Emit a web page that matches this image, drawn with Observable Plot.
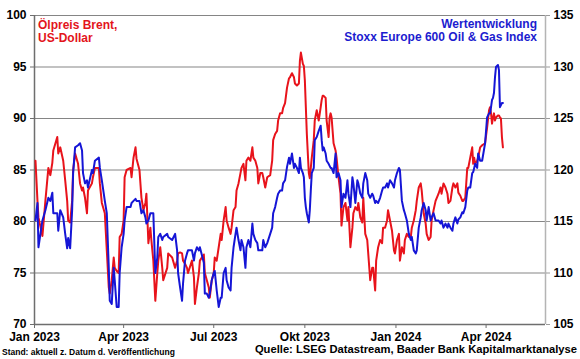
<!DOCTYPE html>
<html>
<head>
<meta charset="utf-8">
<script src="https://cdn.jsdelivr.net/npm/d3@7"></script>
<script src="https://cdn.jsdelivr.net/npm/@observablehq/plot@0.6"></script>
<style>
  html, body { margin: 0; padding: 0; background: #fff; }
  #wrap { position: relative; width: 580px; height: 359px; overflow: hidden; font-family: "Liberation Sans", Arial, sans-serif; font-weight: bold; }
  .t { position: absolute; white-space: nowrap; font-weight: bold; }
</style>
</head>
<body>
<div id="wrap">
  <div id="chart"></div>
  <div class="t" id="tl" style="left:38px;top:19px;font-size:12px;line-height:13px;color:#e3141b;"></div>
  <div class="t" id="tr" style="right:43px;top:18px;font-size:12px;line-height:13px;color:#1c1ccf;text-align:right;"></div>
  <div class="t" id="fl" style="left:2px;top:347px;font-size:8.5px;line-height:11px;color:#000;"></div>
  <div class="t" id="fr" style="right:3px;top:344px;font-size:11.2px;line-height:11px;color:#000;"></div>
</div>
<script>
// ---- Data ----
const dates = [
"2023-01-02","2023-01-04","2023-01-05","2023-01-09","2023-01-12","2023-01-15","2023-01-17","2023-01-19","2023-01-20","2023-01-24",
"2023-01-25","2023-01-27","2023-01-30","2023-02-01","2023-02-03","2023-02-04","2023-02-06","2023-02-08","2023-02-09","2023-02-11",
"2023-02-14","2023-02-16","2023-02-18","2023-02-19","2023-02-21","2023-02-23","2023-02-24","2023-02-28","2023-03-01","2023-03-03",
"2023-03-07","2023-03-08","2023-03-10","2023-03-13","2023-03-15","2023-03-17","2023-03-18","2023-03-20","2023-03-22","2023-03-23",
"2023-03-25","2023-03-27","2023-03-28","2023-03-30","2023-04-01","2023-04-02","2023-04-04","2023-04-08","2023-04-09","2023-04-11",
"2023-04-13","2023-04-14","2023-04-17","2023-04-19","2023-04-21","2023-04-23","2023-04-24","2023-04-26","2023-04-28","2023-04-29",
"2023-05-01","2023-05-03","2023-05-05","2023-05-06","2023-05-08","2023-05-10","2023-05-11","2023-05-15","2023-05-16","2023-05-20",
"2023-05-23","2023-05-25","2023-05-26","2023-05-28","2023-05-30","2023-05-31","2023-06-02","2023-06-04","2023-06-05","2023-06-09",
"2023-06-11","2023-06-12","2023-06-14","2023-06-16","2023-06-17","2023-06-21","2023-06-22","2023-06-24","2023-06-26","2023-06-27",
"2023-06-29","2023-07-01","2023-07-02","2023-07-04","2023-07-06","2023-07-08","2023-07-09","2023-07-11","2023-07-13","2023-07-14",
"2023-07-16","2023-07-18","2023-07-19","2023-07-21","2023-07-23","2023-07-24","2023-07-26","2023-07-28","2023-07-29","2023-07-31",
"2023-08-02","2023-08-03","2023-08-05","2023-08-07","2023-08-09","2023-08-10","2023-08-12","2023-08-14","2023-08-15","2023-08-17",
"2023-08-19","2023-08-20","2023-08-22","2023-08-24","2023-08-27","2023-08-29","2023-08-30","2023-09-01","2023-09-03","2023-09-04",
"2023-09-06","2023-09-08","2023-09-09","2023-09-11","2023-09-13","2023-09-15","2023-09-16","2023-09-18","2023-09-20","2023-09-21",
"2023-09-23","2023-09-25","2023-09-26","2023-09-27","2023-09-29","2023-09-30","2023-10-01","2023-10-02","2023-10-03","2023-10-05",
"2023-10-06","2023-10-07","2023-10-08","2023-10-10","2023-10-11","2023-10-13","2023-10-15","2023-10-17","2023-10-18","2023-10-19",
"2023-10-20","2023-10-22","2023-10-23","2023-10-25","2023-10-26","2023-10-27","2023-10-28","2023-10-30","2023-11-01","2023-11-02",
"2023-11-04","2023-11-06","2023-11-07","2023-11-09","2023-11-11","2023-11-13","2023-11-14","2023-11-16","2023-11-18","2023-11-19",
"2023-11-21","2023-11-23","2023-11-24","2023-11-26","2023-11-28","2023-11-29","2023-12-01","2023-12-03","2023-12-04","2023-12-06",
"2023-12-08","2023-12-09","2023-12-11","2023-12-12","2023-12-14","2023-12-16","2023-12-18","2023-12-19","2023-12-21","2023-12-23",
"2023-12-24","2023-12-26","2023-12-28","2023-12-30","2023-12-31","2024-01-02","2024-01-04","2024-01-05","2024-01-07","2024-01-09",
"2024-01-10","2024-01-12","2024-01-14","2024-01-16","2024-01-17","2024-01-19","2024-01-21","2024-01-22","2024-01-24","2024-01-26",
"2024-01-27","2024-01-29","2024-01-31","2024-02-01","2024-02-03","2024-02-05","2024-02-06","2024-02-08","2024-02-10","2024-02-13",
"2024-02-15","2024-02-16","2024-02-18","2024-02-20","2024-02-22","2024-02-23","2024-02-25","2024-02-27","2024-02-28","2024-03-01",
"2024-03-03","2024-03-04","2024-03-06","2024-03-08","2024-03-09","2024-03-11","2024-03-13","2024-03-14","2024-03-16","2024-03-18",
"2024-03-19","2024-03-20","2024-03-21","2024-03-23","2024-03-24","2024-03-26","2024-03-28","2024-03-31","2024-04-02","2024-04-04",
"2024-04-05","2024-04-06","2024-04-07","2024-04-08","2024-04-09","2024-04-10","2024-04-11","2024-04-13","2024-04-14","2024-04-15",
"2024-04-16","2024-04-17","2024-04-18"
];
// Brent oil price, US-Dollar (left axis)
const brent = [
85.9,82.0,80.4,78.6,82.0,85.2,84.5,85.7,86.9,88.2,
86.6,87.2,85.9,84.0,82.0,80.1,79.9,82.0,85.0,86.6,
85.6,83.7,83.0,83.3,82.3,80.8,83.0,83.7,84.3,85.2,
85.2,83.7,81.8,80.8,77.2,73.6,73.0,74.3,76.5,75.5,
75.2,75.0,78.5,78.8,80.1,84.3,85.0,85.2,84.3,86.2,
87.2,86.1,85.0,82.3,81.1,81.8,82.7,77.9,79.4,78.2,
76.2,72.3,75.0,76.2,77.5,75.5,74.3,75.5,76.9,76.5,
75.5,76.2,76.9,77.0,76.9,76.2,75.9,75.5,75.0,76.2,
74.6,72.0,73.6,75.0,76.2,76.8,75.0,74.3,73.6,72.6,
74.3,75.0,76.5,76.2,77.5,78.8,78.2,80.1,81.4,80.1,
79.4,78.8,79.4,81.1,81.4,83.0,83.7,84.7,85.2,85.6,
84.0,85.9,86.2,85.9,87.2,86.2,85.9,85.2,83.7,84.7,
84.7,84.3,83.3,84.3,84.5,85.9,87.9,88.5,88.8,89.8,
90.5,90.5,91.0,91.5,93.0,93.9,94.0,94.4,94.0,93.4,
93.2,93.4,95.6,96.4,95.3,95.1,93.7,91.1,88.5,84.7,
84.2,85.2,86.2,87.9,89.8,90.8,89.8,91.1,91.8,92.2,
92.2,92.0,89.8,88.2,90.1,90.5,90.1,87.6,86.9,86.2,
84.3,82.7,79.6,81.4,81.8,80.1,81.4,77.5,79.4,80.8,
81.4,81.1,81.8,80.4,79.9,82.3,78.8,78.2,76.9,74.3,
75.5,75.5,73.3,76.2,77.5,78.2,77.9,79.4,79.4,80.1,
81.1,80.1,79.1,77.2,76.9,78.2,78.8,76.2,77.5,76.9,
78.2,78.8,78.5,78.5,79.4,80.1,81.1,82.0,83.3,83.7,
83.0,80.8,79.8,78.8,78.2,78.5,80.1,81.1,82.0,82.7,
83.3,82.7,83.7,83.3,82.7,81.8,82.0,83.3,83.7,83.3,
83.7,82.8,82.5,82.0,82.0,82.3,85.2,85.2,86.2,87.2,
85.6,86.2,85.6,85.9,86.2,87.2,87.4,87.6,89.1,90.8,
91.1,90.5,89.5,90.1,90.5,89.8,90.1,90.3,90.3,90.1,
90.0,88.2,87.2
];
// Stoxx Europe 600 Oil & Gas Index (right axis)
const stoxx = [
115.1,116.8,112.5,115.1,116.1,117.3,117.0,117.8,115.8,115.8,
114.1,116.1,115.4,113.8,112.4,113.4,112.4,116.1,119.7,122.2,
122.4,122.6,121.9,119.7,118.7,119.0,118.3,120.0,119.7,120.9,
121.2,120.2,119.0,117.0,115.8,110.5,107.3,107.0,110.5,109.3,
106.7,106.7,110.0,112.5,113.8,115.1,116.4,116.4,116.8,117.0,
117.2,117.0,117.0,115.8,116.1,115.4,114.8,115.1,115.8,115.8,
115.8,110.0,111.5,113.5,113.8,113.2,113.5,113.8,113.5,113.2,
113.8,112.2,110.0,108.6,107.3,109.0,111.2,111.9,112.2,112.2,
111.2,111.9,112.5,112.2,112.5,111.0,108.0,108.0,107.6,108.0,
109.3,110.0,110.2,108.3,106.7,107.6,107.6,110.0,110.5,109.3,
108.6,108.3,110.5,112.5,113.8,114.4,113.2,112.2,113.2,112.5,
110.5,112.5,113.2,112.5,114.8,113.8,113.2,112.9,112.2,112.2,
112.2,113.2,112.5,112.9,113.8,114.4,115.8,116.4,117.3,117.7,
118.0,118.0,118.7,119.0,120.3,121.2,120.6,121.6,120.2,120.6,
120.2,119.7,121.2,120.2,119.7,119.3,117.3,116.4,115.8,114.9,
116.1,118.0,119.7,120.2,122.9,123.2,123.8,124.3,122.9,121.9,
122.2,121.6,120.9,120.6,120.4,120.2,120.2,119.7,121.6,119.3,
119.7,119.0,116.4,117.7,117.3,119.0,117.7,116.4,119.3,118.7,
116.8,119.0,118.7,117.7,117.3,118.7,119.7,119.0,117.7,117.3,
117.7,117.5,116.8,117.0,116.8,117.3,118.0,118.3,118.3,118.7,
118.3,119.0,118.7,118.3,119.0,119.7,120.2,120.0,117.0,116.1,
115.8,115.1,113.8,113.2,113.5,112.2,111.9,112.2,114.4,115.4,
116.1,116.8,116.1,115.1,116.4,115.1,115.4,115.8,115.1,115.1,
114.8,115.1,114.4,114.8,114.4,114.8,114.4,114.1,114.8,115.4,
114.8,115.2,115.4,115.9,115.8,116.4,118.0,118.3,118.3,119.7,
119.8,120.2,120.6,120.2,121.6,120.9,120.9,122.6,125.1,125.5,
125.5,126.1,126.8,127.0,127.5,129.0,130.0,130.2,129.7,126.1,
126.3,126.5,126.5
];
const leftTicks = [70, 75, 80, 85, 90, 95, 100];
const rightTicks = [105, 110, 115, 120, 125, 130, 135];
const xTickDates = ["2023-01-01","2023-04-01","2023-07-01","2023-10-01","2024-01-01","2024-04-01"];
const xTickLabels = ["Jan 2023","Apr 2023","Jul 2023","Okt 2023","Jan 2024","Apr 2024"];
const xDomain = ["2023-01-01", "2024-05-31"];
const titleLeft = ["Ölpreis Brent,", "US-Dollar"];
const titleRight = ["Wertentwicklung", "Stoxx Europe 600 Oil & Gas Index"];
const footLeft = "Stand: aktuell z. Datum d. Veröffentlichung";
const footRight = "Quelle: LSEG Datastream, Baader Bank Kapitalmarktanalyse";

// ---- Chart ----
const RED = "#e8131b";
const BLUE = "#1515d6";
const OFFSET = rightTicks[0] - leftTicks[0]; // right axis = left axis + 35

const rows = dates.map((d, i) => ({date: new Date(d), brent: brent[i], stoxx: stoxx[i]}));
const xd = xDomain.map(d => new Date(d));
const xTicks = xTickDates.map(d => new Date(d));
const labelOf = d => xTickLabels[xTicks.findIndex(t => +t === +d)];

const chart = Plot.plot({
  width: 580,
  height: 359,
  marginLeft: 34,
  marginRight: 35,
  marginTop: 15,
  marginBottom: 35,
  style: {fontFamily: "'Liberation Sans', Arial, sans-serif", fontSize: "12px", fontWeight: "bold", color: "#000", background: "#fff"},
  x: {type: "utc", domain: xd},
  y: {domain: [leftTicks[0], leftTicks[leftTicks.length - 1]]},
  marks: [
    Plot.ruleY(leftTicks.slice(1), {stroke: "#858585", strokeWidth: 1}),
    Plot.ruleY([leftTicks[0]], {stroke: "#6e6e6e", strokeWidth: 1.5}),
    Plot.ruleX([xd[0]], {stroke: "#6e6e6e", strokeWidth: 1.5}),
    Plot.ruleX([xd[1]], {stroke: "#b4b4b4", strokeWidth: 1.5}),
    Plot.axisY(leftTicks, {anchor: "left", tickSize: 4, tickPadding: 4, stroke: "#6e6e6e", fill: "#000", fontWeight: "bold", label: null, tickFormat: d => String(d)}),
    Plot.axisY(rightTicks.map(v => v - OFFSET), {anchor: "right", tickSize: 4, tickPadding: 4, stroke: "#9a9a9a", fill: "#000", fontWeight: "bold", label: null, tickFormat: d => String(d + OFFSET)}),
    Plot.axisX(xTicks, {anchor: "bottom", tickSize: 4, tickPadding: 4, stroke: "#6e6e6e", fill: "#000", fontWeight: "bold", label: null, tickFormat: labelOf}),
    Plot.line(rows, {x: "date", y: "brent", stroke: RED, strokeWidth: 2}),
    Plot.line(rows, {x: "date", y: d => d.stoxx - OFFSET, stroke: BLUE, strokeWidth: 2})
  ]
});
document.getElementById("chart").appendChild(chart);
document.getElementById("tl").innerHTML = titleLeft.join("<br>");
document.getElementById("tr").innerHTML = titleRight.join("<br>");
document.getElementById("fl").textContent = footLeft;
document.getElementById("fr").textContent = footRight;
</script>
</body>
</html>
